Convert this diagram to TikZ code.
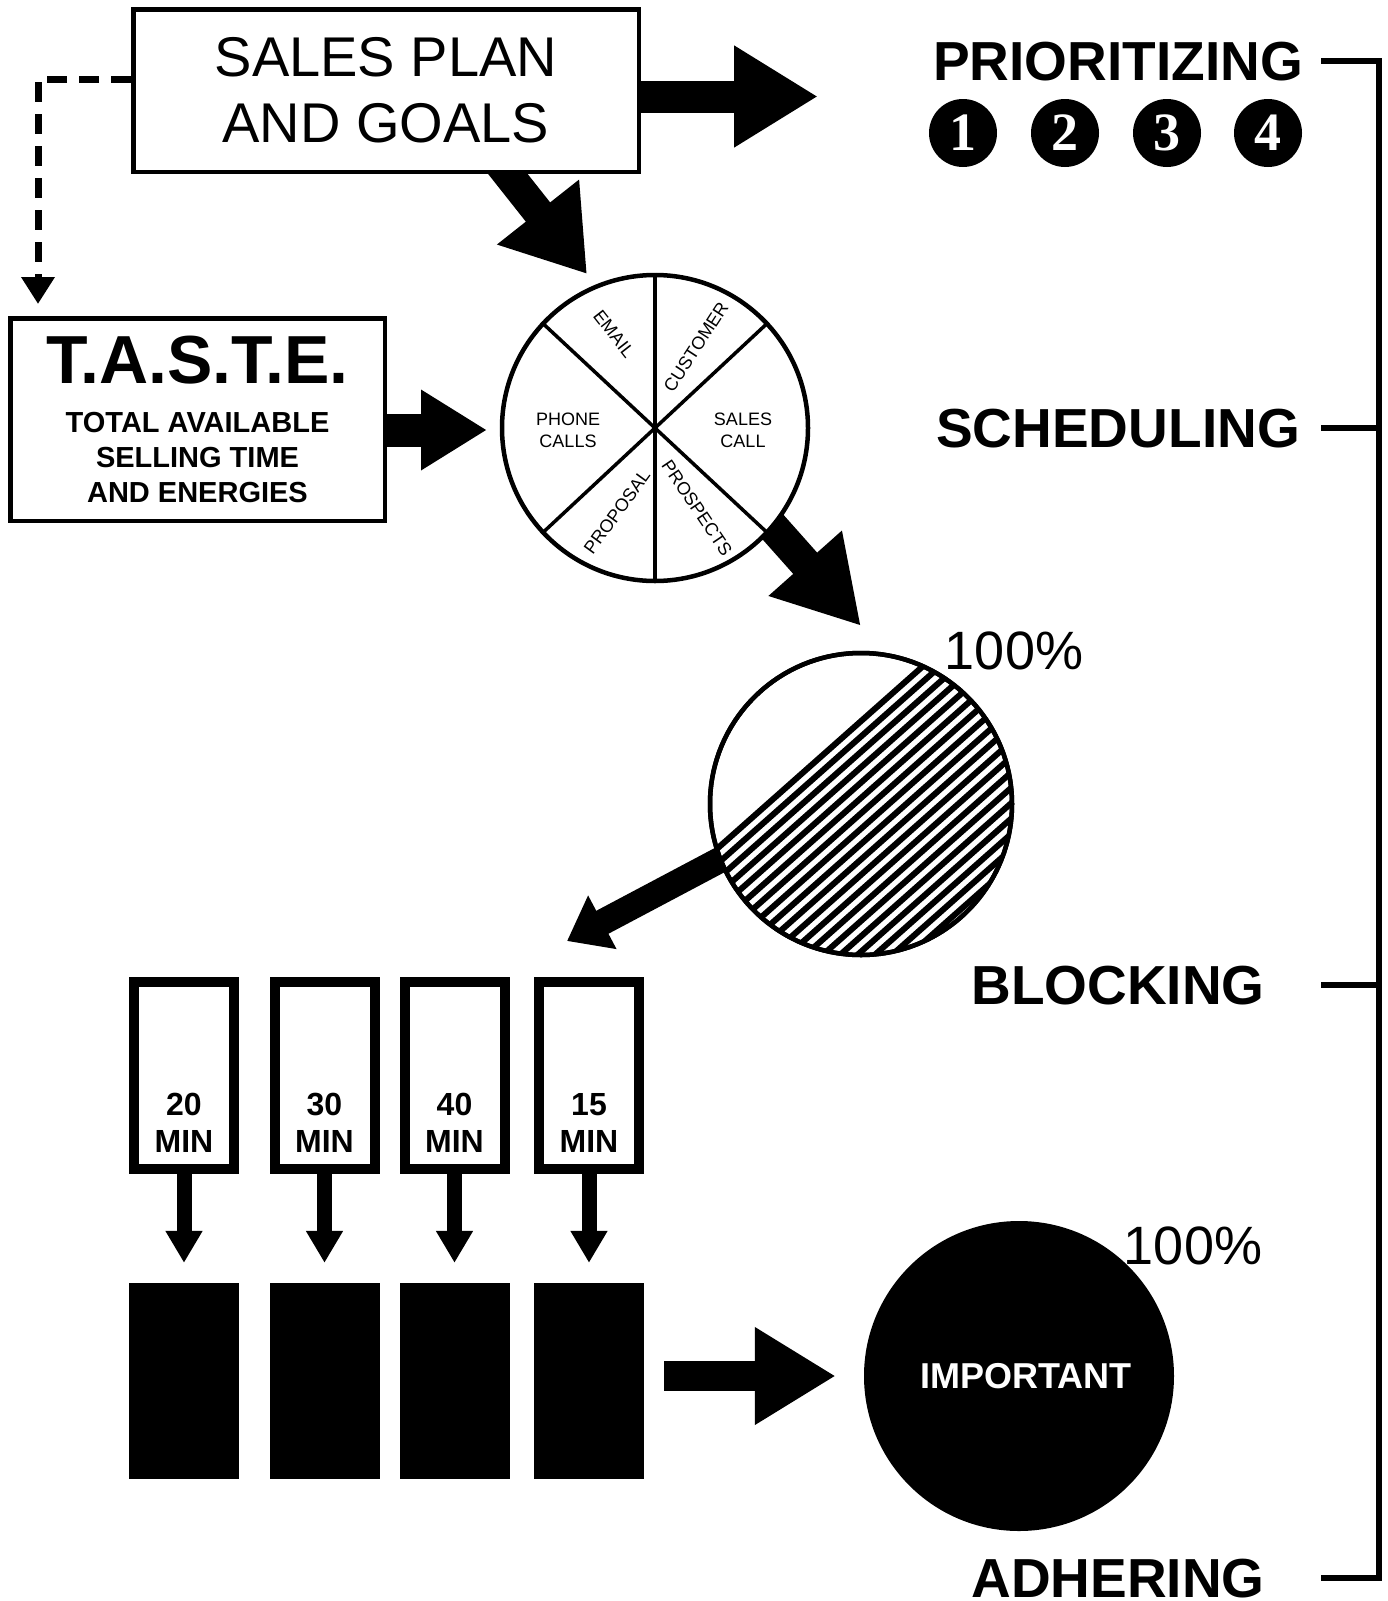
\documentclass[tikz,border=0pt]{standalone}
\usepackage{fontspec}
\setmainfont{Liberation Sans}
\newfontfamily\numfont{Liberation Serif}
\usetikzlibrary{arrows.meta,calc,backgrounds}

\begin{document}
\begin{tikzpicture}
		[x=1pt, y=-1pt,
		 planbox/.style= {draw=black,line width=4.5pt,fill=white,minimum width=505.5pt,minimum height=162.5pt,align=center,inner sep=0pt,font=\fontsize{56}{66}\selectfont},
		 tastebox/.style= {draw=black,line width=4.5pt,fill=white,minimum width=374.5pt,minimum height=202.5pt},
		 wheel/.style= {circle,draw=black,line width=4.5pt,fill=white,minimum size=306pt},
		 ring/.style= {circle,draw=black,line width=4.5pt,fill=white,minimum size=302pt},
		 slice/.style= {align=center,inner sep=0pt,font=\fontsize{18}{22}\selectfont},
		 spoke/.style= {line width=3.5pt},
		 hatchline/.style= {line width=6pt},
		 numdot/.style= {circle,fill=black,minimum size=68pt,inner sep=0pt,text=white,font=\numfont\bfseries\fontsize{54}{54}\selectfont},
		 stage/.style= {anchor=base,inner sep=0pt,font=\bfseries\fontsize{55}{60}\selectfont},
		 pct/.style= {anchor=base,inner sep=0pt,font=\fontsize{54}{60}\selectfont},
		 minbox/.style= {draw=black,line width=10pt,fill=white,minimum width=100pt,minimum height=187pt},
		 mintext/.style= {anchor=south,align=center,inner sep=0pt,font=\bfseries\fontsize{32}{37}\selectfont},
		 block/.style= {fill=black,minimum width=110pt,minimum height=196pt},
		 bracket/.style= {line width=6.5pt},
		 dashline/.style= {line width=7pt,dash pattern=on 20pt off 12pt,-{Triangle[length=27pt,width=32pt]}},
		 fatarrow/.style n args= {3}{line width=#1,-{Triangle[width=#2,length=#3]}}]

		\useasboundingbox (0,0) rectangle (1388,1601);

		\node[planbox] (plan) at (386,90.5) {SALES PLAN\\AND GOALS};
		\node[tastebox] (taste) at (197.5,419.5) {};
		\node[anchor=base,inner sep=0pt,font=\bfseries\fontsize{68}{72}\selectfont] (tastetitle) at ($(taste.north)+(0,67)$) {T.A.S.T.E.};
		\node[align=center,inner sep=0pt,font=\bfseries\fontsize{29}{35}\selectfont] (tastetext) at ($(taste.north)+(0,142)$) {TOTAL AVAILABLE\\SELLING TIME\\AND ENERGIES};

		\draw[dashline] ([yshift=11.5pt]plan.west) -| ([xshift=30pt,yshift=12pt]taste.north west);

		\node[wheel] (wheel) at (655,428) {};
		\draw[spoke] (wheel.north) -- (wheel.south);
		\draw[spoke] (wheel.43) -- (wheel.223);
		\draw[spoke] (wheel.137) -- (wheel.317);
		\node[slice] (phone) at (568,430) {PHONE\\CALLS};
		\node[slice] (salescall) at (743,430) {SALES\\CALL};
		\node[slice,rotate=-52] (email) at (614,334) {EMAIL};
		\node[slice,rotate=57] (customer) at (696,347) {CUSTOMER};
		\node[slice,rotate=54] (proposal) at (617,512) {PROPOSAL};
		\node[slice,rotate=-56] (prospects) at (697,508) {PROSPECTS};

		\node[ring] (hatch) at (861,804) {};
		\begin{scope}
			\clip (hatch.center) circle[radius=150];
			\foreach \k in {0,...,19}{
				\pgfmathsetmacro\d{-62+11.5*\k}
				\draw[hatchline] ($(hatch.center)+({0.665*\d-150},{0.747*\d+133})$) -- ($(hatch.center)+({0.665*\d+150},{0.747*\d-133})$);
			}
		\end{scope}
		\draw[line width=4.5pt] (hatch.center) circle[radius=151];
		\node[pct] (pcttop) at (1014,669) {100\%};

		\node[stage] (prio) at (1118,80) {PRIORITIZING};
		\node[stage] (sched) at (1118,447) {SCHEDULING};
		\node[stage] (blocking) at (1118,1004) {BLOCKING};
		\node[stage] (adher) at (1118,1597) {ADHERING};
		\foreach \n/\x in {1/963,2/1065,3/1167,4/1268}
			\node[numdot] (num\n) at (\x,133) {\n};

		\coordinate (brk) at (1321,0);
		\coordinate (spine) at (1379,0);
		\draw[bracket] (prio.east -| brk) -| (adher.east -| spine) -- (adher.east -| brk);
		\draw[bracket] (sched.east -| brk) -- (sched.east -| spine);
		\draw[bracket] (blocking.east -| brk) -- (blocking.east -| spine);

		\foreach \i/\x/\t in {1/184/20,2/324.5/30,3/454.5/40,4/589/15}{
			\node[minbox] (m\i) at (\x,1075.5) {};
			\node[mintext] (mt\i) at ([yshift=21pt]m\i.south) {\t\\MIN};
			\node[block] (b\i) at (\x,1381) {};
			\draw[fatarrow={15pt}{35pt}{32pt}] (m\i.south) -- ([yshift=20pt]b\i.north);
		}

		\node[circle,fill=black,minimum size=310pt] (imp) at (1019,1376) {};
		\node[text=white,font=\bfseries\fontsize{36}{40}\selectfont] (imptext) at ([xshift=7pt]imp.center) {IMPORTANT};
		\node[pct] (pctbot) at (1193,1264) {100\%};

		\coordinate (priotip) at ($(plan.east)+(177,6)$);
		\coordinate (tastetip) at ($(taste.east)+(100,10.5)$);
		\coordinate (wheelin) at (587,274);
		\coordinate (hatchin) at (861,626);
		\coordinate (blocktip) at (567,941);
		\coordinate (imptip) at ($(imp.west)+(-28,0)$);

		\begin{scope}[on background layer]
			\fill[white] (0,0) rectangle (1388,1601);
			\draw[fatarrow={32pt}{96pt}{84pt}] ([xshift=-5pt,yshift=-6pt]plan.east) -- (priotip);
			\draw[fatarrow={31pt}{99pt}{79pt}] ([xshift=114pt,yshift=10pt]plan.south) -- (wheelin);
			\draw[fatarrow={33pt}{76pt}{66pt}] ([xshift=-5pt,yshift=-10.5pt]taste.east) -- (tastetip);
			\draw[fatarrow={32pt}{92pt}{84pt}] ($(wheel.center)!0.8!(wheel.-38)$) -- (hatchin);
			\draw[fatarrow={26pt}{58pt}{40pt}] ($(hatch.center)!0.9!(hatch.201)$) -- (blocktip);
			\draw[fatarrow={30pt}{92pt}{81pt}] ([xshift=20pt,yshift=5pt]b4.east) -- (imptip);
		\end{scope}

	\end{tikzpicture}
\end{document}
